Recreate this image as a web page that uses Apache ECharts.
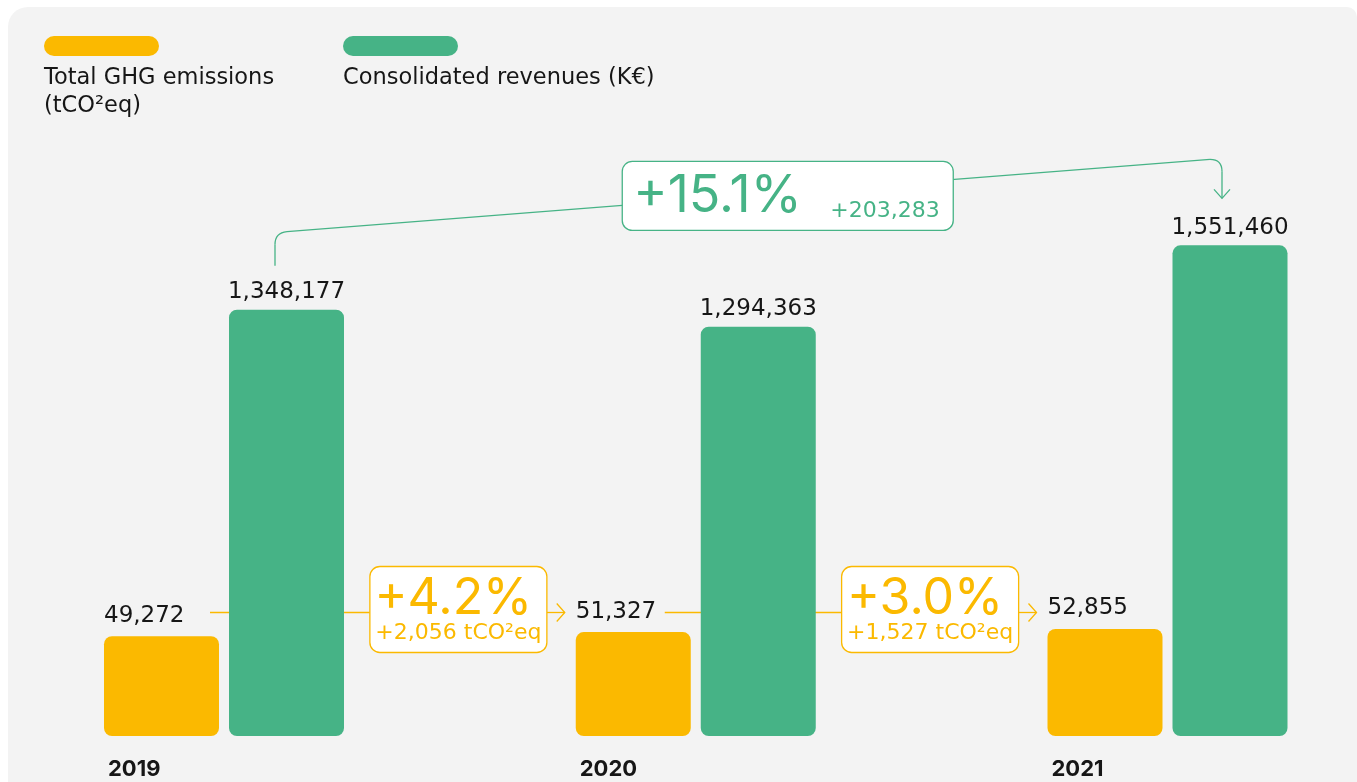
<!DOCTYPE html>
<html>
<head>
<meta charset="utf-8">
<script src="https://cdn.jsdelivr.net/npm/echarts@6/dist/echarts.min.js"></script>
<style>
  html, body { margin: 0; padding: 0; background: #fff; }
  #main { width: 1357px; height: 782px; }
</style>
</head>
<body>
<div id="main"></div>
<script>
// data
const years = ["2019", "2020", "2021"];
const ghgEmissions = [49272, 51327, 52855];
const revenues = [1348177, 1294363, 1551460];
const ghgChangeBig = ["+4.2%", "+3.0%"];
const ghgChangeSmall = ["+2,056 tCO²eq", "+1,527 tCO²eq"];
const revenueChangeBig = "+15.1%";
const revenueChangeSmall = "+203,283";

const YELLOW = "#FBB900";
const GREEN = "#46B386";
const INK = "#161616";
const FONT = '"DejaVu Sans", sans-serif';
const BIG = "Inter, sans-serif";

const fmt = (v) => v.toLocaleString("en-US");

const chart = echarts.init(document.getElementById("main"));
chart.setOption({
  backgroundColor: "#fff",
  animation: false,
  grid: { left: 224, right: 189.5, top: 230, bottom: 46 },
  xAxis: {
    type: "category",
    data: years,
    boundaryGap: false,
    axisLine: { show: false },
    axisTick: { show: false },
    splitLine: { show: false },
    axisLabel: {
      align: "left",
      padding: [0, 0, 0, -116],
      margin: 22,
      fontSize: 22,
      fontWeight: "bold",
      color: INK,
      fontFamily: BIG,
    },
  },
  yAxis: [
    { type: "value", min: 0, max: 1600000, show: false },
    { type: "value", min: 0, max: 250000, show: false },
  ],
  series: [
    {
      name: "Total GHG emissions (tCO²eq)",
      type: "bar",
      yAxisIndex: 1,
      data: ghgEmissions,
      barWidth: 115,
      barGap: "8.7%",
      clip: false,
      itemStyle: { color: YELLOW, borderRadius: 8 },
      label: {
        show: true,
        position: [0, -9],
        align: "left",
        verticalAlign: "bottom",
        formatter: (p) => fmt(p.value),
        fontSize: 23,
        color: INK,
        fontFamily: FONT,
      },
    },
    {
      name: "Consolidated revenues (K€)",
      type: "bar",
      yAxisIndex: 0,
      data: revenues,
      barWidth: 115,
      clip: false,
      itemStyle: { color: GREEN, borderRadius: 8 },
      label: {
        show: true,
        position: "top",
        distance: 6,
        formatter: (p) => fmt(p.value),
        fontSize: 23,
        color: INK,
        fontFamily: FONT,
      },
    },
  ],
});

// positions for the annotations, taken from the axes
const cx = years.map((y, i) => chart.convertToPixel({ xAxisIndex: 0 }, i));
const gTop = revenues.map((v) => chart.convertToPixel({ yAxisIndex: 0 }, v));
const yTop = ghgEmissions.map((v) => chart.convertToPixel({ yAxisIndex: 1 }, v));

const graphics = [];
const seg = (color, pts) => graphics.push({
  type: "polyline", z: 1, silent: true,
  shape: { points: pts },
  style: { stroke: color, lineWidth: 1.3, fill: null },
});
const curve = (color, a, c, b) => graphics.push({
  type: "bezierCurve", z: 1, silent: true,
  shape: { x1: a[0], y1: a[1], cpx1: c[0], cpy1: c[1], x2: b[0], y2: b[1] },
  style: { stroke: color, lineWidth: 1.3, fill: null },
});

// panel
graphics.push({
  type: "rect", z: -10, silent: true,
  shape: { x: 8, y: 7, width: 1349, height: 820, r: [20, 10, 0, 0] },
  style: { fill: "#f3f3f3" },
});
// legend
[[YELLOW, "Total GHG emissions\n(tCO²eq)", 44], [GREEN, "Consolidated revenues (K€)", 343]].forEach(([c, t, x]) => {
  graphics.push({
    type: "rect", z: 5,
    shape: { x: x, y: 36, width: 115, height: 20, r: 10 },
    style: { fill: c },
  });
  graphics.push({
    type: "text", z: 5,
    style: { x: x, y: 64, text: t, fontSize: 22.5, lineHeight: 28, fontFamily: FONT, fill: INK },
  });
});

// yellow connectors
const avgTop = yTop.reduce((a, b) => a + b, 0) / yTop.length;
const lineY = Math.round(avgTop) - 19.5;
const lineStart = [-14, -31];
for (let i = 0; i < 2; i++) {
  const bx = (cx[i] + cx[i + 1]) / 2 - 1.5;
  const bw = 177, bh = 86;
  const tip = cx[i + 1] - 131;
  seg(YELLOW, [[cx[i] + lineStart[i], lineY], [bx - bw / 2, lineY]]);
  seg(YELLOW, [[bx + bw / 2, lineY], [tip, lineY]]);
  seg(YELLOW, [[tip - 8, lineY - 9], [tip, lineY], [tip - 8, lineY + 9]]);
  graphics.push({
    type: "rect", z: 5,
    shape: { x: bx - bw / 2, y: lineY - 46, width: bw, height: bh, r: 10 },
    style: { fill: "#fff", stroke: YELLOW, lineWidth: 1.3 },
  });
  graphics.push({
    type: "text", z: 6,
    style: {
      x: bx - 5, y: lineY - 14, text: ghgChangeBig[i], align: "center", verticalAlign: "middle",
      fontSize: 50, fontFamily: BIG, fill: YELLOW,
    },
  });
  graphics.push({
    type: "text", z: 6,
    style: {
      x: bx, y: lineY + 21, text: ghgChangeSmall[i], align: "center", verticalAlign: "middle",
      fontSize: 22, fontFamily: FONT, fill: YELLOW,
    },
  });
}

// green connector
const x1 = cx[0] + 51, y1 = gTop[0] - 44;
const x2 = cx[2] + 54.5, tipY = gTop[2] - 47;
const yA = gTop[0] - 77, yB = gTop[2] - 86;
seg(GREEN, [[x1, y1], [x1, yA + 12]]);
curve(GREEN, [x1, yA + 12], [x1, yA], [x1 + 12, yA - 1]);
seg(GREEN, [[x1 + 12, yA - 1], [x2 - 12, yB]]);
curve(GREEN, [x2 - 12, yB], [x2, yB], [x2, yB + 12]);
seg(GREEN, [[x2, yB + 12], [x2, tipY]]);
seg(GREEN, [[x2 - 8, tipY - 9], [x2, tipY], [x2 + 8, tipY - 9]]);

const gbx = (cx[0] + cx[2]) / 2 + 92;
const gbw = 331, gbh = 69;
const gby = yA - 1 + (yB - yA + 1) * (gbx - x1 - 12) / (x2 - x1 - 24);
graphics.push({
  type: "rect", z: 5,
  shape: { x: gbx - gbw / 2, y: gby - 31, width: gbw, height: gbh, r: 10 },
  style: { fill: "#fff", stroke: GREEN, lineWidth: 1.3 },
});
graphics.push({
  type: "text", z: 6,
  style: {
    x: gbx - gbw / 2 + 11, y: gby + 30, text: revenueChangeBig, verticalAlign: "bottom",
    fontSize: 52, fontFamily: BIG, fill: GREEN,
  },
});
graphics.push({
  type: "text", z: 6,
  style: {
    x: gbx - gbw / 2 + 208, y: gby + 30, text: revenueChangeSmall, verticalAlign: "bottom",
    fontSize: 22, fontFamily: FONT, fill: GREEN,
  },
});

chart.setOption({ graphic: graphics });
</script>
</body>
</html>
